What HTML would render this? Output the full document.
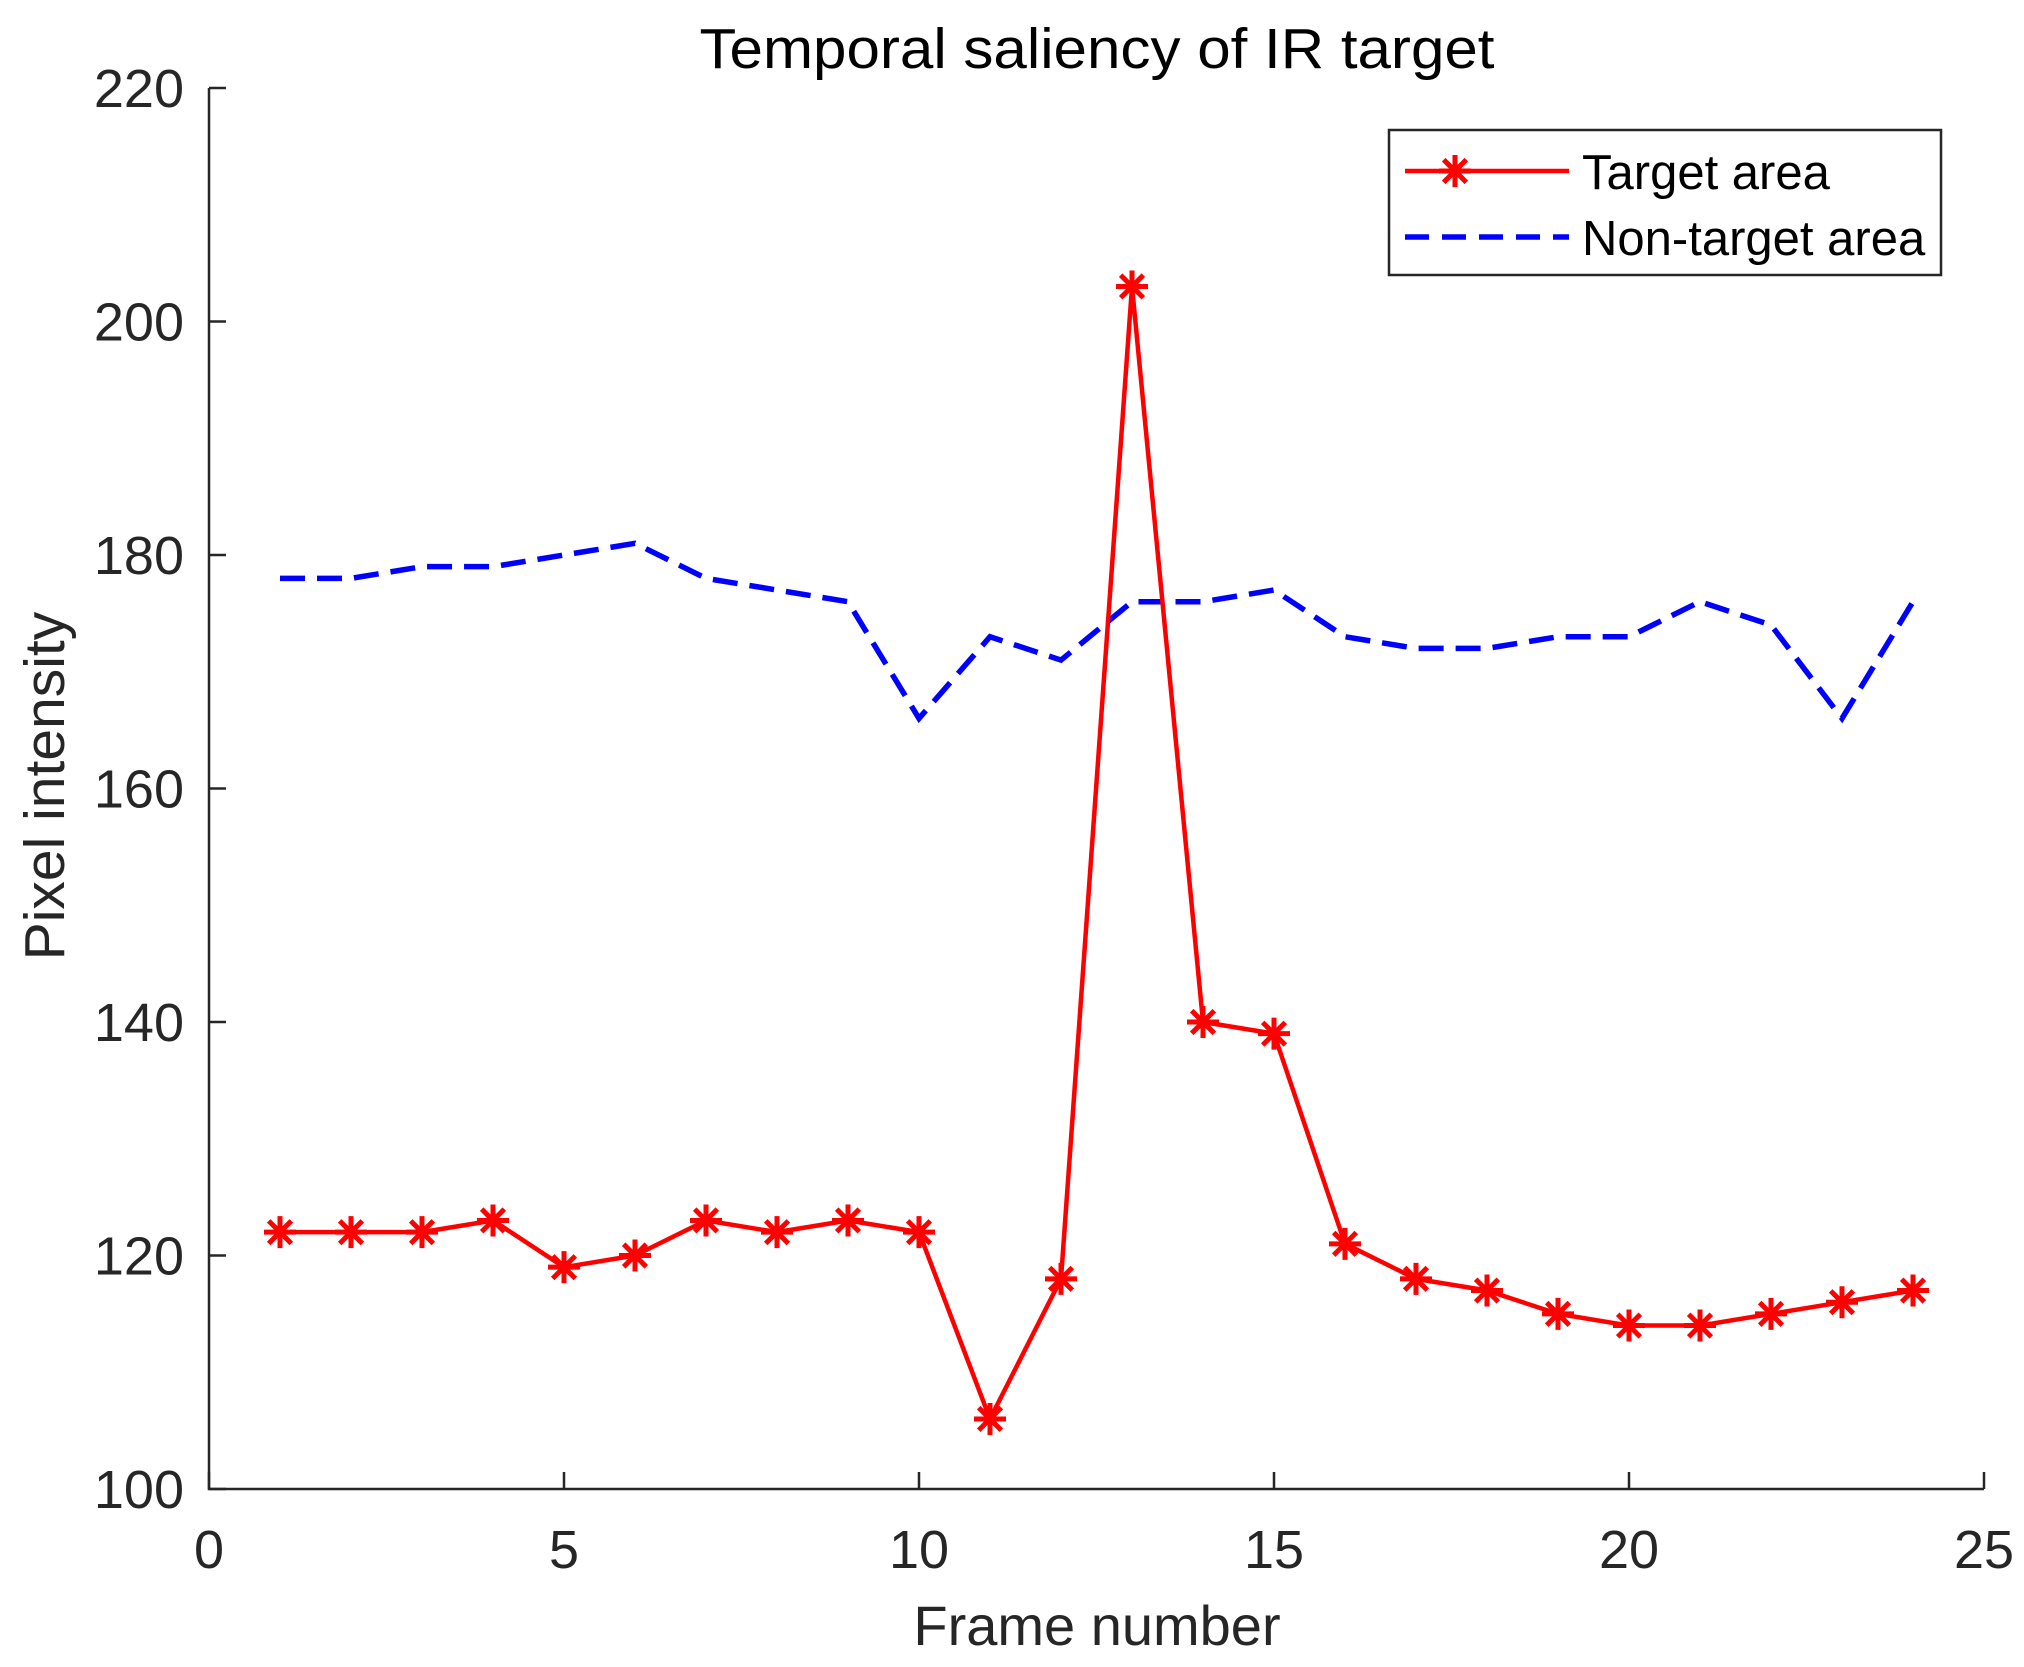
<!DOCTYPE html>
<html><head><meta charset="utf-8"><style>
html,body{margin:0;padding:0;background:#fff;}
svg{display:block;}
text{font-family:"Liberation Sans",Arial,sans-serif;fill:#262626;}
</style></head><body>
<svg id="s" width="2024" height="1667" viewBox="0 0 2024 1667" xmlns="http://www.w3.org/2000/svg">
<rect width="2024" height="1667" fill="#fff"/>
<g id="axes" stroke="#262626" stroke-width="2.5" fill="none">
<path d="M209 88 V1489 H1984"/>
</g>
<g id="ticks" stroke="#262626" stroke-width="2.5"></g>
<g id="labels" font-size="54"></g>
<text x="1097" y="68" font-size="57" text-anchor="middle" style="fill:#000" textLength="795" lengthAdjust="spacingAndGlyphs">Temporal saliency of IR target</text>
<text x="1097" y="1645" font-size="56" text-anchor="middle">Frame number</text>
<text transform="translate(64,786) rotate(-90)" font-size="57" text-anchor="middle">Pixel intensity</text>
<g id="series"></g>
<rect x="1389" y="130" width="552" height="145" fill="#fff" stroke="#262626" stroke-width="2.5"/>
<line x1="1405" y1="171" x2="1569" y2="171" stroke="#f00" stroke-width="4.5"/>
<g id="legstar"></g>
<line x1="1405" y1="237" x2="1569" y2="237" stroke="#00f" stroke-width="5.5" stroke-dasharray="24,13"/>
<text x="1582" y="189" font-size="49" style="fill:#000">Target area</text>
<text x="1582" y="255" font-size="49" style="fill:#000">Non-target area</text>
</svg>
<script>
const NS="http://www.w3.org/2000/svg";
const X=v=>209+v*71.0, Y=v=>88+(220-v)*11.675;
const tk=document.getElementById('ticks'), lb=document.getElementById('labels');
function el(p,t,a){const e=document.createElementNS(NS,t);for(const k in a)e.setAttribute(k,a[k]);p.appendChild(e);return e;}
for(let v=0;v<=25;v+=5){el(tk,'line',{x1:X(v),x2:X(v),y1:1489,y2:1472});const t=el(lb,'text',{x:X(v),y:1568,'text-anchor':'middle'});t.textContent=v;}
for(let v=100;v<=220;v+=20){el(tk,'line',{x1:209,x2:226,y1:Y(v),y2:Y(v)});const t=el(lb,'text',{x:184,y:Y(v)+19,'text-anchor':'end'});t.textContent=v;}
const tg=[122,122,122,123,119,120,123,122,123,122,106,118,203,140,139,121,118,117,115,114,114,115,116,117];
const nt=[178,178,179,179,180,181,178,177,176,166,173,171,176,176,177,173,172,172,173,173,176,174,166,176];
const sr=document.getElementById('series');
el(sr,'polyline',{points:nt.map((v,i)=>X(i+1)+','+Y(v)).join(' '),fill:'none',stroke:'#00f','stroke-width':5.5,'stroke-dasharray':'25,12'});
el(sr,'polyline',{points:tg.map((v,i)=>X(i+1)+','+Y(v)).join(' '),fill:'none',stroke:'#f00','stroke-width':4.5,'stroke-linejoin':'round'});
function star(p,cx,cy){const r=16;let d='';for(let k=0;k<4;k++){const a=k*Math.PI/4;const dx=r*Math.sin(a),dy=r*Math.cos(a);d+=`M${cx-dx} ${cy-dy}L${cx+dx} ${cy+dy}`;}el(p,'path',{d,stroke:'#f00','stroke-width':5,fill:'none'});}
tg.forEach((v,i)=>star(sr,X(i+1),Y(v)));
star(document.getElementById('legstar'),1455,171);
</script>
</body></html>
